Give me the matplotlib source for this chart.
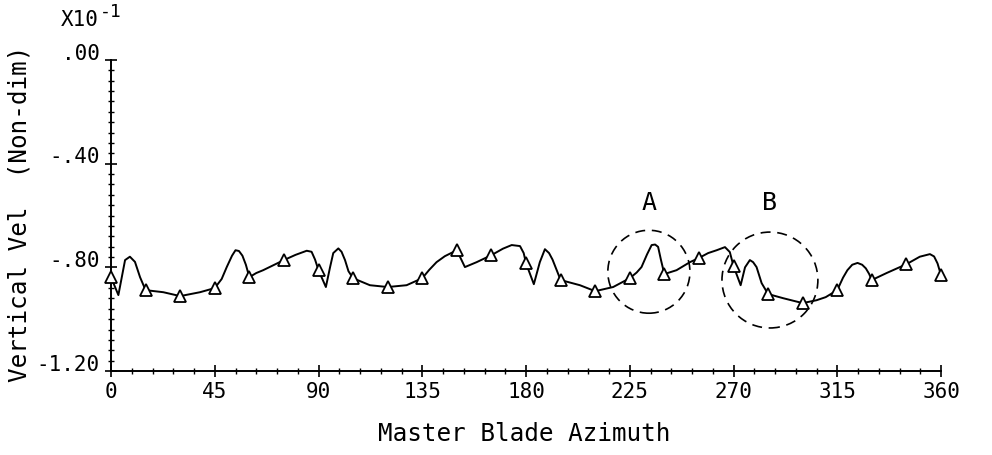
import matplotlib
matplotlib.use("Agg")
import matplotlib.pyplot as plt
from matplotlib.patches import Ellipse
from matplotlib.ticker import MultipleLocator
from matplotlib.transforms import ScaledTranslation

# Vertical velocity (non-dimensional, x10^-1) versus master blade azimuth (deg)
azimuth = [0, 3.2, 6.1, 8.2, 10.4, 12.6, 15, 22.7, 30, 38.6,
           45, 48, 50.2, 52.5, 54.0, 55.5, 57, 58.5, 60,
           63, 66, 75, 80, 84.9, 87, 88.5, 90,
           93.2, 95, 96.4, 98.6, 100, 101.5, 103, 105,
           112.3, 120, 128.2,
           135, 138, 141.2, 144.8, 147.5, 150, 153.5, 158.6,
           165, 170, 173.8, 177.4, 179, 180,
           183.4, 186, 188.2, 190, 191.5, 193.5, 195,
           203.4, 210, 217.8,
           225, 228, 230.1, 232.5, 234.5, 236, 237.3, 238.5, 240,
           245.3, 251.1, 255, 259, 262.7, 266.3, 268.4, 270,
           273.1, 275, 277.1, 278.5, 280, 282.2, 285,
           291.5, 300, 306, 310,
           315, 317.5, 319.4, 321.5, 323.8, 325.8, 327.4, 328.8, 330,
           336.4, 342.2, 345, 350.8, 355.2, 357, 358.5, 360]
vertical_vel = [-0.838, -0.907, -0.772, -0.759, -0.779, -0.838, -0.888, -0.896, -0.911, -0.896,
                -0.880, -0.845, -0.799, -0.755, -0.734, -0.737, -0.755, -0.790, -0.838,
                -0.822, -0.811, -0.772, -0.752, -0.736, -0.740, -0.770, -0.811,
                -0.876, -0.800, -0.745, -0.727, -0.740, -0.772, -0.815, -0.842,
                -0.869, -0.876, -0.869,
                -0.842, -0.810, -0.780, -0.757, -0.745, -0.734, -0.799, -0.780,
                -0.753, -0.728, -0.714, -0.718, -0.745, -0.784,
                -0.865, -0.780, -0.730, -0.745, -0.770, -0.815, -0.849,
                -0.869, -0.892, -0.876,
                -0.842, -0.820, -0.799, -0.750, -0.714, -0.712, -0.721, -0.770, -0.826,
                -0.811, -0.780, -0.764, -0.745, -0.734, -0.722, -0.741, -0.795,
                -0.869, -0.800, -0.772, -0.780, -0.799, -0.861, -0.903,
                -0.919, -0.938, -0.927, -0.915,
                -0.888, -0.840, -0.811, -0.790, -0.783, -0.790, -0.804, -0.825, -0.849,
                -0.822, -0.799, -0.788, -0.759, -0.749, -0.758, -0.785, -0.830]
marker_step = 15

x_ticks = [0, 45, 90, 135, 180, 225, 270, 315, 360]
x_tick_labels = ["0", "45", "90", "135", "180", "225", "270", "315", "360"]
y_ticks = [0.0, -0.4, -0.8, -1.2]
y_tick_labels = [".00", "-.40", "-.80", "-1.20"]

# Highlighted interaction regions
region_names = ["A", "B"]
region_center_az = [233.3, 285.8]
region_center_vel = [-0.817, -0.849]
region_half_width = [17.8, 20.8]
region_half_height = [0.160, 0.185]
region_label_vel = -0.552

mono = "DejaVu Sans Mono"

fig = plt.figure(figsize=(9.92, 4.55), dpi=100)
ax = fig.add_axes([111 / 992, 1 - 371 / 455, 830 / 992, 311 / 455])

mark_idx = [i for i, a in enumerate(azimuth) if a % marker_step == 0]
ax.plot(azimuth, vertical_vel, color="black", lw=1.4,
        solid_joinstyle="round", solid_capstyle="round",
        marker="^", markevery=mark_idx, markersize=8,
        markerfacecolor="white", markeredgecolor="black", markeredgewidth=1.3,
        clip_on=False, zorder=3)

for name, cx, cy, hw, hh in zip(region_names, region_center_az, region_center_vel,
                                region_half_width, region_half_height):
    ax.add_patch(Ellipse((cx, cy), 2 * hw, 2 * hh, fill=False, edgecolor="black",
                         lw=1.2, linestyle=(0, (6, 4)), clip_on=False, zorder=2))
    ax.text(cx, region_label_vel, name, ha="center", va="center",
            fontsize=18, family=mono, color="black")

ax.set_xlim(0, 360)
ax.set_ylim(-1.2, 0.0)
ax.set_xticks(x_ticks)
ax.set_xticklabels(x_tick_labels, family=mono, fontsize=15)
ax.set_yticks(y_ticks)
ax.set_yticklabels(y_tick_labels, family=mono, fontsize=15)
ax.xaxis.set_minor_locator(MultipleLocator(9))
ax.yaxis.set_minor_locator(MultipleLocator(0.04))

for s in ("top", "right"):
    ax.spines[s].set_visible(False)
for s in ("left", "bottom"):
    ax.spines[s].set_linewidth(1.4)

ax.tick_params(which="major", direction="inout", length=8, width=1.2, pad=4)
ax.tick_params(which="minor", direction="inout", length=4, width=1.0)

for lbl in ax.get_yticklabels():
    lbl.set_transform(lbl.get_transform() + ScaledTranslation(0, 6 / 72, fig.dpi_scale_trans))

fig.text(524 / 992, 1 - 434 / 455, "Master Blade Azimuth", ha="center", va="center",
         family=mono, fontsize=17.5)
fig.text(20 / 992, 1 - 214 / 455, "Vertical Vel  (Non-dim)", ha="center", va="center",
         rotation=90, family=mono, fontsize=17.5)
fig.text(61 / 992, 1 - 20 / 455, "X10", ha="left", va="center",
         family=mono, fontsize=15)
fig.text(100 / 992, 1 - 12 / 455, "-1", ha="left", va="center",
         family=mono, fontsize=13)

fig.savefig("out.png", dpi=100, facecolor="white")
